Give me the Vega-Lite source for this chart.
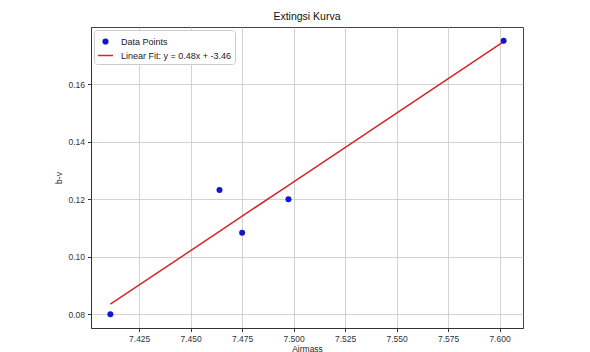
{
  "$schema": "https://vega.github.io/schema/vega-lite/v6.json",
  "autosize": {"type": "none"},
  "width": 432,
  "height": 301,
  "padding": {"left": 91, "top": 27, "right": 67, "bottom": 24},
  "background": "white",
  "config": {
    "font": "Liberation Sans",
    "view": {"stroke": "#444", "strokeWidth": 1},
    "axis": {
      "labelFont": "Liberation Sans", "labelFontSize": 8.5, "labelColor": "#333",
      "titleFont": "Liberation Sans", "titleFontSize": 8.5, "titleFontWeight": "normal", "titleColor": "#222",
      "gridColor": "#c8c8c8", "gridWidth": 0.8,
      "domainColor": "#333", "tickColor": "#333", "tickSize": 3.5, "labelPadding": 3
    }
  },
  "title": {"text": "Extingsi Kurva", "fontSize": 10.5, "fontWeight": "normal", "font": "Liberation Sans", "color": "#111", "offset": 5},
  "datasets": {
    "pts": [
      {"airmass": 7.411, "bv": 0.0800, "series": "Data Points"},
      {"airmass": 7.464, "bv": 0.1232, "series": "Data Points"},
      {"airmass": 7.475, "bv": 0.1083, "series": "Data Points"},
      {"airmass": 7.4975, "bv": 0.1200, "series": "Data Points"},
      {"airmass": 7.602, "bv": 0.1750, "series": "Data Points"}
    ],
    "fit": [
      {"airmass": 7.411, "bv": 0.0835, "series": "Linear Fit: y = 0.48x + -3.46"},
      {"airmass": 7.464, "bv": 0.1088, "series": "Linear Fit: y = 0.48x + -3.46"},
      {"airmass": 7.475, "bv": 0.1141, "series": "Linear Fit: y = 0.48x + -3.46"},
      {"airmass": 7.4975, "bv": 0.1248, "series": "Linear Fit: y = 0.48x + -3.46"},
      {"airmass": 7.602, "bv": 0.1747, "series": "Linear Fit: y = 0.48x + -3.46"}
    ]
  },
  "encoding": {
    "x": {
      "field": "airmass", "type": "quantitative", "title": "Airmass",
      "scale": {"domain": [7.4016, 7.6114], "nice": false, "zero": false},
      "axis": {"values": [7.425, 7.45, 7.475, 7.5, 7.525, 7.55, 7.575, 7.6], "format": ".3f", "titlePadding": 1}
    },
    "y": {
      "field": "bv", "type": "quantitative", "title": "b-v",
      "scale": {"domain": [0.07525, 0.1798], "nice": false, "zero": false},
      "axis": {"values": [0.08, 0.1, 0.12, 0.14, 0.16], "format": ".2f", "titlePadding": 4}
    },
    "color": {
      "field": "series", "type": "nominal",
      "scale": {"domain": ["Data Points", "Linear Fit: y = 0.48x + -3.46"], "range": ["#1515d0", "#d8232a"]},
      "legend": {
        "title": null, "orient": "top-left", "offset": 3, "padding": 3,
        "fillColor": "white", "strokeColor": "#cccccc", "cornerRadius": 3,
        "labelFont": "Liberation Sans", "labelFontSize": 9, "labelColor": "#222",
        "symbolSize": 225, "rowPadding": -2, "labelOffset": 7,
        "encode": {
          "symbols": {
            "update": {
              "shape": {"signal": "datum.value == 'Data Points' ? 'circle' : 'stroke'"},
              "size": {"signal": "datum.value == 'Data Points' ? 22 : 225"},
              "fill": {"signal": "scale('color', datum.value)"},
              "stroke": {"signal": "scale('color', datum.value)"},
              "strokeWidth": {"value": 1.5},
              "opacity": {"value": 1},
              "fillOpacity": {"value": 1}
            }
          }
        }
      }
    }
  },
  "layer": [
    {
      "data": {"name": "fit"},
      "mark": {"type": "line", "strokeWidth": 1.5}
    },
    {
      "data": {"name": "pts"},
      "mark": {"type": "circle", "size": 36, "opacity": 1}
    }
  ]
}
